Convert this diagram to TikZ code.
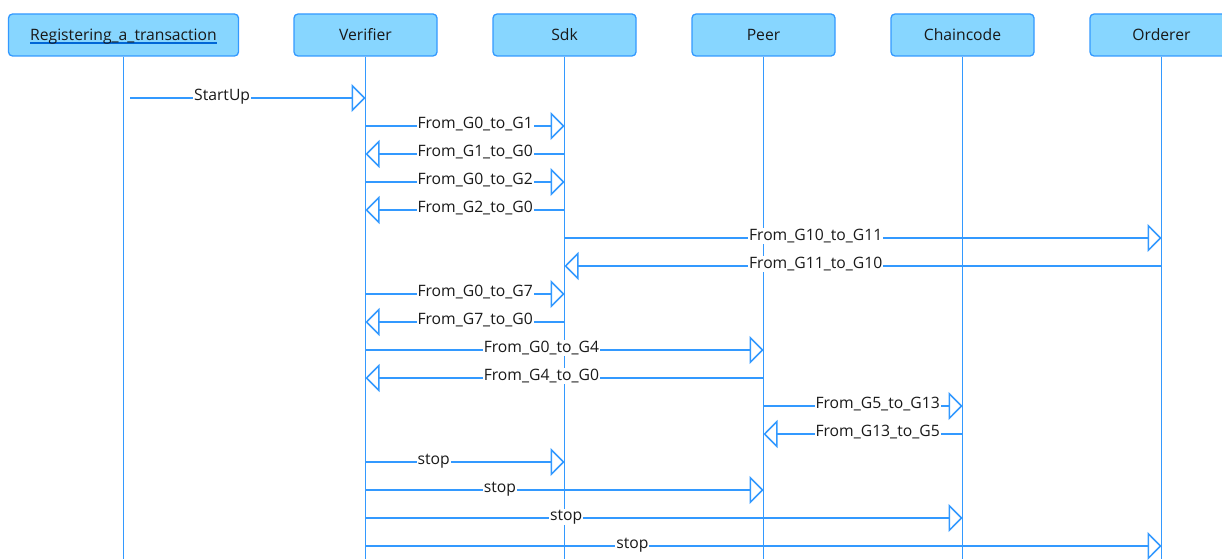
\documentclass[tikz,border=0pt]{standalone}
\usepackage{fontspec}
\setmainfont{Open Sans}
\usepackage{xcolor}
\usetikzlibrary{arrows.meta,calc}
\definecolor{ink}{RGB}{25,25,25}
\definecolor{headfill}{RGB}{135,214,255}
\definecolor{headline}{RGB}{51,153,255}
\definecolor{wire}{RGB}{51,153,255}
\definecolor{ulblue}{RGB}{0,102,214}
\newcommand{\headul}[1]{\setbox0=\hbox{#1}\rlap{\color{ulblue}\rule[-3.6pt]{\wd0}{1.8pt}}\box0}
\tikzset{
  head/.style={draw=headline,fill=headfill,line width=1.3pt,rounded corners=4pt,
    minimum width=143pt,minimum height=42pt,inner sep=0pt,
    text height=11.2pt,text depth=0pt,text=ink,font=\fontsize{15.7}{18}\selectfont},
  lifeline/.style={wire,line width=1.8pt},
  msgline/.style={wire,line width=1.5pt,-{Triangle[open,length=14pt,width=28pt]}},
  msglabel/.style={fill=white,text=ink,inner xsep=1pt,inner ysep=1pt,
    anchor=base west,xshift=-16pt,yshift=-2.3pt,font=\fontsize{15.7}{18}\selectfont}
}
\begin{document}
\begin{tikzpicture}[x=1pt,y=-1pt]
  \useasboundingbox (0,0) rectangle (1222,559);
  % heads
  \node[head,minimum width=230pt] (reg) at (123.5,35) {\headul{Registering\_a\_transaction}};
  \node[head] (ver) at (365.5,35) {Verifier};
  \node[head] (sdk) at (564.5,35) {Sdk};
  \node[head] (peer) at (763.5,35) {Peer};
  \node[head] (cc) at (962.5,35) {Chaincode};
  \node[head] (ord) at (1161.5,35) {Orderer};
  \foreach \n in {reg,ver,sdk,peer,cc,ord}
    \draw[lifeline] (\n.south) -- (\n.south |- 0,559);
  % messages
  \coordinate (found) at (130,98);
  \draw[msgline] (found) -- (ver.south |- 0,98) node[msglabel,pos=0.333] {StartUp};
  \foreach \src/\dst/\row/\lbl/\where in {
      ver/sdk/126/From\_G0\_to\_G1/0.333,
      sdk/ver/154/From\_G1\_to\_G0/0.667,
      ver/sdk/182/From\_G0\_to\_G2/0.333,
      sdk/ver/210/From\_G2\_to\_G0/0.667,
      sdk/ord/238/From\_G10\_to\_G11/0.333,
      ord/sdk/266/From\_G11\_to\_G10/0.667,
      ver/sdk/294/From\_G0\_to\_G7/0.333,
      sdk/ver/322/From\_G7\_to\_G0/0.667,
      ver/peer/350/From\_G0\_to\_G4/0.333,
      peer/ver/378/From\_G4\_to\_G0/0.667,
      peer/cc/406/From\_G5\_to\_G13/0.333,
      cc/peer/434/From\_G13\_to\_G5/0.667,
      ver/sdk/462/stop/0.333,
      ver/peer/490/stop/0.333,
      ver/cc/518/stop/0.333,
      ver/ord/546/stop/0.333}
    \draw[msgline] (\src.south |- 0,\row) -- (\dst.south |- 0,\row)
      node[msglabel,pos=\where] {\lbl};
\end{tikzpicture}
\end{document}
